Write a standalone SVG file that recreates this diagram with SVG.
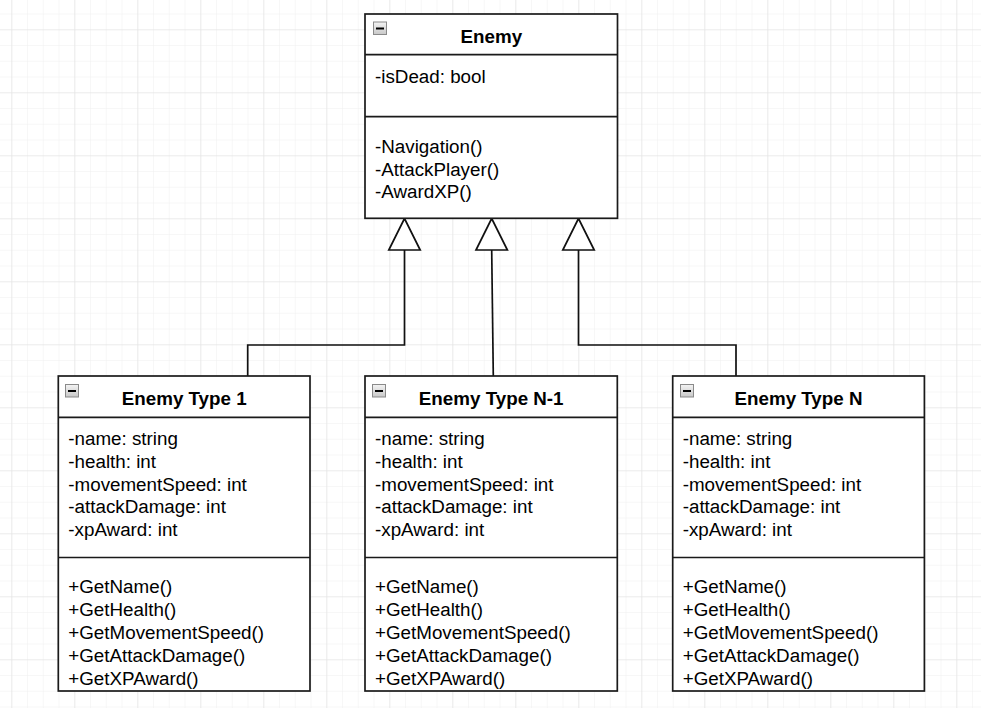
<svg xmlns="http://www.w3.org/2000/svg" width="981" height="708" viewBox="0 0 981 708">
<defs>
<pattern id="minor" x="11.3" y="29.3" width="15.75" height="15.75" patternUnits="userSpaceOnUse">
<path d="M0 0H15.75M0 0V15.75" fill="none" stroke="#f0f0f0" stroke-width="1"/>
</pattern>
<pattern id="major" x="11.3" y="29.3" width="63" height="63" patternUnits="userSpaceOnUse">
<path d="M0 0H63M0 0V63" fill="none" stroke="#e2e2e2" stroke-width="1.2"/>
</pattern>
<linearGradient id="ig" x1="0" y1="0" x2="0" y2="1">
<stop offset="0" stop-color="#f4f4f4"/>
<stop offset="1" stop-color="#c8c8c8"/>
</linearGradient>
<g id="icon">
<rect x="0.5" y="0.5" width="13" height="12.5" fill="url(#ig)" stroke="#8a8a8a" stroke-width="1"/>
<line x1="3" y1="7" x2="11" y2="7" stroke="#000" stroke-width="2"/>
</g>
</defs>
<style>
.box{fill:#fff;stroke:#1a1a1a;stroke-width:1.7}
.sep{stroke:#1a1a1a;stroke-width:1.7}
.title{font-family:"Liberation Sans",Arial,sans-serif;font-weight:bold;font-size:18.8px;fill:#000;text-anchor:middle}
.txt{font-family:"Liberation Sans",Arial,sans-serif;font-size:18.8px;fill:#000}
.edge{fill:none;stroke:#111;stroke-width:1.7}
.tri{fill:#fff;stroke:#111;stroke-width:1.7;stroke-linejoin:miter}
</style>
<rect width="981" height="708" fill="#fff"/>
<rect width="981" height="708" fill="url(#minor)"/>
<rect width="981" height="708" fill="url(#major)"/>

<g id="connectors">
<path class="edge" d="M404.5 250V345H247.7V376"/>
<path class="edge" d="M491.7 250L493.3 376"/>
<path class="edge" d="M578.5 250V345H736V376"/>
<polygon class="tri" points="404.5,218.5 388.8,250 420.2,250"/>
<polygon class="tri" points="491.7,218.5 476,250 507.4,250"/>
<polygon class="tri" points="578.5,218.5 562.8,250 594.2,250"/>
</g>

<g id="enemy">
<rect class="box" x="365" y="14" width="252.5" height="204.3"/>
<line class="sep" x1="365" y1="54.7" x2="617.5" y2="54.7"/>
<line class="sep" x1="365" y1="116.7" x2="617.5" y2="116.7"/>
<use href="#icon" x="373" y="21.5"/>
<text class="title" x="491.3" y="43">Enemy</text>
<text class="txt" x="375" y="82.5">-isDead: bool</text>
<text class="txt" x="375" y="152.7">-Navigation()</text>
<text class="txt" x="375" y="175.5">-AttackPlayer()</text>
<text class="txt" x="375" y="198.3">-AwardXP()</text>
</g>

<g id="enemy-type-1">
<rect class="box" x="58.3" y="376" width="251.7" height="315"/>
<line class="sep" x1="58.3" y1="417.3" x2="310" y2="417.3"/>
<line class="sep" x1="58.3" y1="557.5" x2="310" y2="557.5"/>
<use href="#icon" x="65" y="384"/>
<text class="title" x="184.2" y="405">Enemy Type 1</text>
<text class="txt" x="68.3" y="445">-name: string</text>
<text class="txt" x="68.3" y="467.8">-health: int</text>
<text class="txt" x="68.3" y="490.6">-movementSpeed: int</text>
<text class="txt" x="68.3" y="513.4">-attackDamage: int</text>
<text class="txt" x="68.3" y="536.2">-xpAward: int</text>
<text class="txt" x="68.3" y="593.3">+GetName()</text>
<text class="txt" x="68.3" y="616.1">+GetHealth()</text>
<text class="txt" x="68.3" y="638.9">+GetMovementSpeed()</text>
<text class="txt" x="68.3" y="661.7">+GetAttackDamage()</text>
<text class="txt" x="68.3" y="684.5">+GetXPAward()</text>
</g>

<g id="enemy-type-n-1">
<rect class="box" x="365" y="376" width="252.3" height="315"/>
<line class="sep" x1="365" y1="417.3" x2="617.3" y2="417.3"/>
<line class="sep" x1="365" y1="557.5" x2="617.3" y2="557.5"/>
<use href="#icon" x="372" y="384"/>
<text class="title" x="491.2" y="405">Enemy Type N-1</text>
<text class="txt" x="375" y="445">-name: string</text>
<text class="txt" x="375" y="467.8">-health: int</text>
<text class="txt" x="375" y="490.6">-movementSpeed: int</text>
<text class="txt" x="375" y="513.4">-attackDamage: int</text>
<text class="txt" x="375" y="536.2">-xpAward: int</text>
<text class="txt" x="375" y="593.3">+GetName()</text>
<text class="txt" x="375" y="616.1">+GetHealth()</text>
<text class="txt" x="375" y="638.9">+GetMovementSpeed()</text>
<text class="txt" x="375" y="661.7">+GetAttackDamage()</text>
<text class="txt" x="375" y="684.5">+GetXPAward()</text>
</g>

<g id="enemy-type-n">
<rect class="box" x="672.7" y="376" width="251.7" height="315"/>
<line class="sep" x1="672.7" y1="417.3" x2="924.4" y2="417.3"/>
<line class="sep" x1="672.7" y1="557.5" x2="924.4" y2="557.5"/>
<use href="#icon" x="680" y="384"/>
<text class="title" x="798.5" y="405">Enemy Type N</text>
<text class="txt" x="682.7" y="445">-name: string</text>
<text class="txt" x="682.7" y="467.8">-health: int</text>
<text class="txt" x="682.7" y="490.6">-movementSpeed: int</text>
<text class="txt" x="682.7" y="513.4">-attackDamage: int</text>
<text class="txt" x="682.7" y="536.2">-xpAward: int</text>
<text class="txt" x="682.7" y="593.3">+GetName()</text>
<text class="txt" x="682.7" y="616.1">+GetHealth()</text>
<text class="txt" x="682.7" y="638.9">+GetMovementSpeed()</text>
<text class="txt" x="682.7" y="661.7">+GetAttackDamage()</text>
<text class="txt" x="682.7" y="684.5">+GetXPAward()</text>
</g>
</svg>
